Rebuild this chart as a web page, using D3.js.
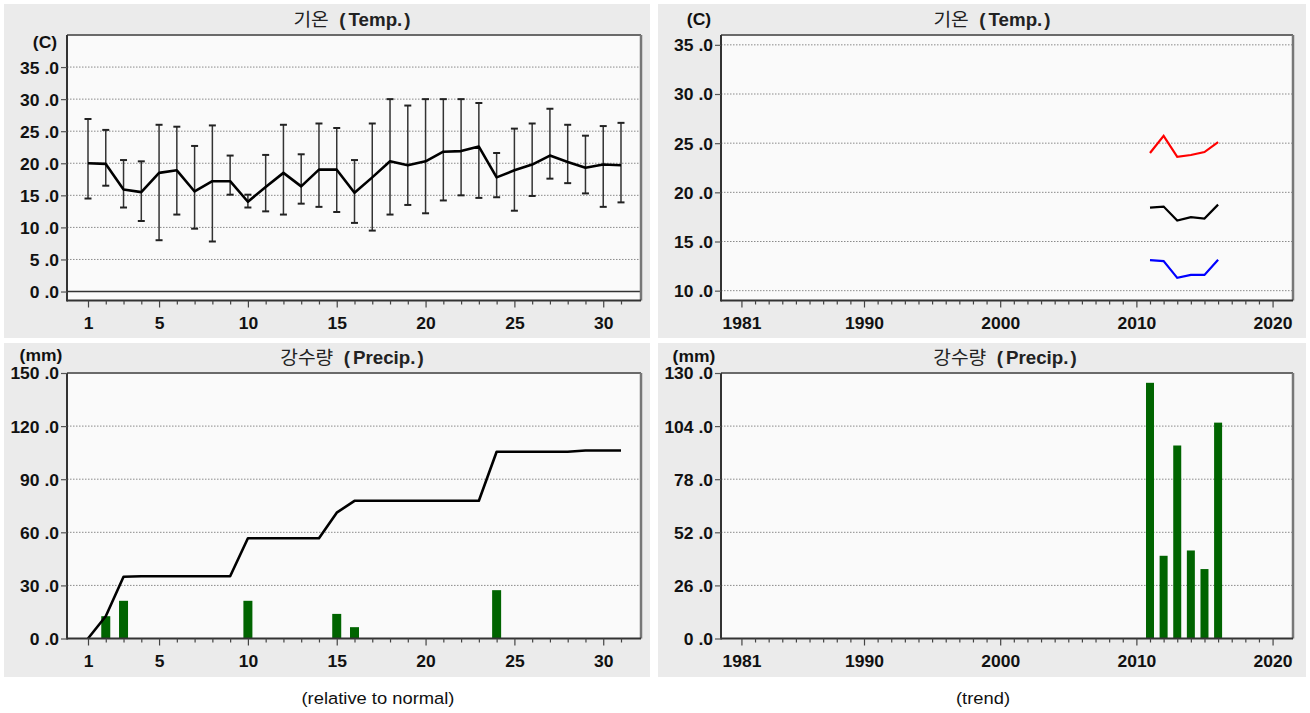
<!DOCTYPE html>
<html><head><meta charset="utf-8">
<script src="https://cdn.jsdelivr.net/npm/d3@7"></script>
<style>
body{margin:0;background:#fff;}
svg text{font-family:"Liberation Sans",Arial,sans-serif;}
</style></head><body>
<svg id="c" width="1310" height="713"></svg>
<script>
// ---------- data ----------
const days = [1,2,3,4,5,6,7,8,9,10,11,12,13,14,15,16,17,18,19,20,21,22,23,24,25,26,27,28,29,30,31];
const dayLabels = [1,5,10,15,20,25,30];
const tempMean = [20.0,19.9,15.9,15.5,18.5,18.9,15.6,17.2,17.2,14.0,16.3,18.5,16.4,19.0,19.0,15.4,17.8,20.3,19.7,20.3,21.8,21.9,22.6,17.8,18.9,19.8,21.2,20.2,19.3,19.8,19.7];
const tempMax  = [26.9,25.2,20.5,20.3,26.0,25.7,22.7,25.9,21.2,15.1,21.3,26.0,21.4,26.2,25.5,20.5,26.2,30.0,29.0,30.0,30.0,30.0,29.4,21.6,25.4,26.2,28.5,26.0,24.3,25.8,26.3];
const tempMin  = [14.5,16.5,13.1,11.0,8.0,12.0,9.8,7.8,15.1,13.1,12.5,12.0,13.7,13.2,12.4,10.7,9.5,12.0,13.5,12.2,14.2,15.0,14.6,14.7,12.6,14.9,17.6,16.9,15.3,13.2,13.9];
const dailyPrecip = [0,12.6,21.3,0,0,0,0,0,0,21.3,0,0,0,0,13.9,6.4,0,0,0,0,0,0,0,27.3,0,0,0,0,0,0,0];
const cumPrecip = [0,12.6,34.9,35.2,35.2,35.2,35.2,35.2,35.2,56.6,56.6,56.6,56.6,56.6,71.1,77.8,77.8,77.8,77.8,77.8,77.8,77.8,77.8,105.5,105.5,105.5,105.5,105.5,106.2,106.2,106.2];

const years = [2011,2012,2013,2014,2015,2016];
const yearTicks = d3.range(1981, 2021);
const yearLabels = [1981,1990,2000,2010,2020];
const trendMax = [24.0,25.75,23.6,23.8,24.1,25.1];
const trendAvg = [18.45,18.55,17.13,17.47,17.33,18.75];
const trendMin = [13.1,13.0,11.3,11.6,11.6,13.15];
const yearPrecip = [125.2,40.5,94.5,43.1,34.0,105.7];

const tempTicksL = [0,5,10,15,20,25,30,35];
const tempTicksR = [10,15,20,25,30,35];
const precipTicksL = [0,30,60,90,120,150];
const precipTicksR = [0,26,52,78,104,130];

// ---------- helpers ----------
const svg = d3.select('#c');
const S = 1.06;
const FS = '16.5px';
function stretch(sel, s){
  s = s || S;
  sel.each(function(){
    const t = d3.select(this);
    const x = +t.attr('x') || 0;
    t.attr('transform', `translate(${x},0) scale(${s},1) translate(${-x},0)`);
  });
}
const fmt = d => d + ' .0';

function panel(px, py, pw, ph){
  svg.append('rect').attr('x',px).attr('y',py).attr('width',pw).attr('height',ph).attr('fill','#ebebeb');
}
function plotFrame(x0,x1,y0,y1){
  svg.append('rect').attr('x',x0).attr('y',y0).attr('width',x1-x0).attr('height',y1-y0).attr('fill','#fafafa');
}
function grid(y, vals, x0, x1){
  svg.append('g').selectAll('line').data(vals).join('line')
    .attr('x1',x0).attr('x2',x1).attr('y1',d=>y(d)).attr('y2',d=>y(d))
    .attr('stroke','#8a8a8a').attr('stroke-width',1).attr('stroke-dasharray','1.5,1.5');
}
function borders(x0,x1,y0,y1){
  svg.append('line').attr('x1',x0).attr('x2',x1).attr('y1',y0).attr('y2',y0).attr('stroke','#6a6a6a').attr('stroke-width',2);
  svg.append('line').attr('x1',x1).attr('x2',x1).attr('y1',y0).attr('y2',y1).attr('stroke','#777').attr('stroke-width',2.5);
  svg.append('line').attr('x1',x0).attr('x2',x1).attr('y1',y1).attr('y2',y1).attr('stroke','#333').attr('stroke-width',2);
  svg.append('line').attr('x1',x0).attr('x2',x0).attr('y1',y0).attr('y2',y1+1).attr('stroke','#333').attr('stroke-width',2);
}
function yAxis(y, vals, x0){
  const g = svg.append('g').attr('transform',`translate(${x0},0)`)
    .call(d3.axisLeft(y).tickValues(vals).tickFormat(fmt).tickSize(6).tickPadding(2));
  g.select('.domain').remove();
  g.selectAll('.tick line').attr('stroke','#555').attr('stroke-width',1.2);
  g.selectAll('.tick text').attr('fill','#111').style('font-size',FS).style('font-weight','bold').attr('dy','0.36em');
  stretch(g.selectAll('.tick text'));
}
function xAxis(x, vals, labels, y1){
  const g = svg.append('g').attr('transform',`translate(0,${y1})`)
    .call(d3.axisBottom(x).tickValues(vals).tickFormat(d => labels.includes(d) ? d : '').tickSize(4));
  g.select('.domain').remove();
  g.selectAll('.tick line').attr('stroke','#444').attr('stroke-width',1.2)
    .attr('y2', d => labels.includes(d) ? 7 : 4);
  g.selectAll('.tick text').attr('fill','#111').attr('y',16.5).attr('dy','0.71em')
    .style('font-size',FS).style('font-weight','bold');
  stretch(g.selectAll('.tick text'));
}
function title(cx, by, kor, lat){
  const t = svg.append('text').attr('x',cx).attr('y',by).attr('text-anchor','middle').attr('fill','#222');
  t.append('tspan').text(kor).style('font-family','"Noto Sans CJK KR",sans-serif').style('font-size','18.5px');
  t.append('tspan').attr('dx',10).text('(').style('font-weight','bold').style('font-size','18px');
  t.append('tspan').attr('dx',3).text(lat).style('font-weight','bold').style('font-size','18px');
  t.append('tspan').attr('dx',2).text(')').style('font-weight','bold').style('font-size','18px');
  stretch(t, 1.04);
}
function unit(cx, by, txt){
  const t = svg.append('text').attr('x',cx).attr('y',by).attr('text-anchor','middle').attr('fill','#111')
    .style('font-size',FS).style('font-weight','bold').text(txt);
  stretch(t);
}

// ---------- layout ----------
const L = {x0:67, x1:641}, R = {x0:721, x1:1293};
const T = {y0:35, y1:300.5}, B = {y0:373, y1:638.5};

panel(4,4,646,334); panel(658,4,648,334);
panel(4,343,646,334); panel(658,343,648,334);

// ===== Top-left: daily temperature =====
{
  const x = d3.scaleLinear().domain([-0.182, 32.126]).range([L.x0, L.x1]);
  const y = d3.scaleLinear().domain([-1.4, 40]).range([T.y1, T.y0]);
  plotFrame(L.x0, L.x1, T.y0, T.y1);
  grid(y, tempTicksL.filter(d=>d!==0), L.x0, L.x1);
  svg.append('line').attr('x1',L.x0).attr('x2',L.x1).attr('y1',y(0)).attr('y2',y(0)).attr('stroke','#333').attr('stroke-width',1.5);
  const eb = svg.append('g');
  eb.selectAll('line.v').data(days).join('line').attr('class','v')
    .attr('x1',d=>x(d)).attr('x2',d=>x(d)).attr('y1',(d,i)=>y(tempMax[i])).attr('y2',(d,i)=>y(tempMin[i]))
    .attr('stroke','#333').attr('stroke-width',1.5);
  eb.selectAll('line.t').data(days).join('line').attr('class','t')
    .attr('x1',d=>x(d)-3.5).attr('x2',d=>x(d)+3.5).attr('y1',(d,i)=>y(tempMax[i])).attr('y2',(d,i)=>y(tempMax[i]))
    .attr('stroke','#222').attr('stroke-width',2);
  eb.selectAll('line.b').data(days).join('line').attr('class','b')
    .attr('x1',d=>x(d)-3.5).attr('x2',d=>x(d)+3.5).attr('y1',(d,i)=>y(tempMin[i])).attr('y2',(d,i)=>y(tempMin[i]))
    .attr('stroke','#222').attr('stroke-width',2);
  svg.append('path').datum(days).attr('fill','none').attr('stroke','#000').attr('stroke-width',2.6)
    .attr('stroke-linejoin','round')
    .attr('d', d3.line().x(d=>x(d)).y((d,i)=>y(tempMean[i])));
  borders(L.x0, L.x1, T.y0, T.y1);
  yAxis(y, tempTicksL, L.x0);
  xAxis(x, days, dayLabels, T.y1);
  title(352, 26, '기온', 'Temp.');
  unit(45, 48, '(C)');
}

// ===== Top-right: temperature trend =====
{
  const x = d3.scaleLinear().domain([1979.5, 2021.5]).range([R.x0, R.x1]);
  const y = d3.scaleLinear().domain([9, 36]).range([T.y1, T.y0]);
  plotFrame(R.x0, R.x1, T.y0, T.y1);
  grid(y, tempTicksR, R.x0, R.x1);
  const series = [[trendMax,'#ff0000'],[trendAvg,'#000000'],[trendMin,'#0000ff']];
  series.forEach(([vals,col]) => {
    svg.append('path').datum(years).attr('fill','none').attr('stroke',col).attr('stroke-width',2.2)
      .attr('d', d3.line().x(d=>x(d)).y((d,i)=>y(vals[i])));
  });
  borders(R.x0, R.x1, T.y0, T.y1);
  yAxis(y, tempTicksR, R.x0);
  xAxis(x, yearTicks, yearLabels, T.y1);
  title(992, 26, '기온', 'Temp.');
  unit(699, 25, '(C)');
}

// ===== Bottom-left: daily precipitation =====
{
  const x = d3.scaleLinear().domain([-0.182, 32.126]).range([L.x0, L.x1]);
  const y = d3.scaleLinear().domain([0, 150]).range([B.y1, B.y0]);
  plotFrame(L.x0, L.x1, B.y0, B.y1);
  grid(y, precipTicksL.filter(d=>d!==0), L.x0, L.x1);
  svg.append('g').selectAll('rect').data(days).join('rect')
    .attr('x',d=>x(d)-4.5).attr('width',9)
    .attr('y',(d,i)=>y(dailyPrecip[i])).attr('height',(d,i)=>y(0)-y(dailyPrecip[i]))
    .attr('fill','#006400');
  svg.append('path').datum(days).attr('fill','none').attr('stroke','#000').attr('stroke-width',2.6)
    .attr('stroke-linejoin','round')
    .attr('d', d3.line().x(d=>x(d)).y((d,i)=>y(cumPrecip[i])));
  borders(L.x0, L.x1, B.y0, B.y1);
  yAxis(y, precipTicksL, L.x0);
  xAxis(x, days, dayLabels, B.y1);
  title(352, 364, '강수량', 'Precip.');
  unit(41, 361, '(mm)');
}

// ===== Bottom-right: precipitation trend =====
{
  const x = d3.scaleLinear().domain([1979.5, 2021.5]).range([R.x0, R.x1]);
  const y = d3.scaleLinear().domain([0, 130]).range([B.y1, B.y0]);
  plotFrame(R.x0, R.x1, B.y0, B.y1);
  grid(y, precipTicksR.filter(d=>d!==0), R.x0, R.x1);
  svg.append('g').selectAll('rect').data(years).join('rect')
    .attr('x',d=>x(d)-4).attr('width',8)
    .attr('y',(d,i)=>y(yearPrecip[i])).attr('height',(d,i)=>y(0)-y(yearPrecip[i]))
    .attr('fill','#006400');
  borders(R.x0, R.x1, B.y0, B.y1);
  yAxis(y, precipTicksR, R.x0);
  xAxis(x, yearTicks, yearLabels, B.y1);
  title(1005, 364, '강수량', 'Precip.');
  unit(694, 362, '(mm)');
}

// footers
const f1 = svg.append('text').attr('x',378).attr('y',704).attr('text-anchor','middle').attr('fill','#111').style('font-size','17px').text('(relative to normal)');
const f2 = svg.append('text').attr('x',983).attr('y',704).attr('text-anchor','middle').attr('fill','#111').style('font-size','17px').text('(trend)');
stretch(f1, 1.08); stretch(f2, 1.08);
</script>
</body></html>
